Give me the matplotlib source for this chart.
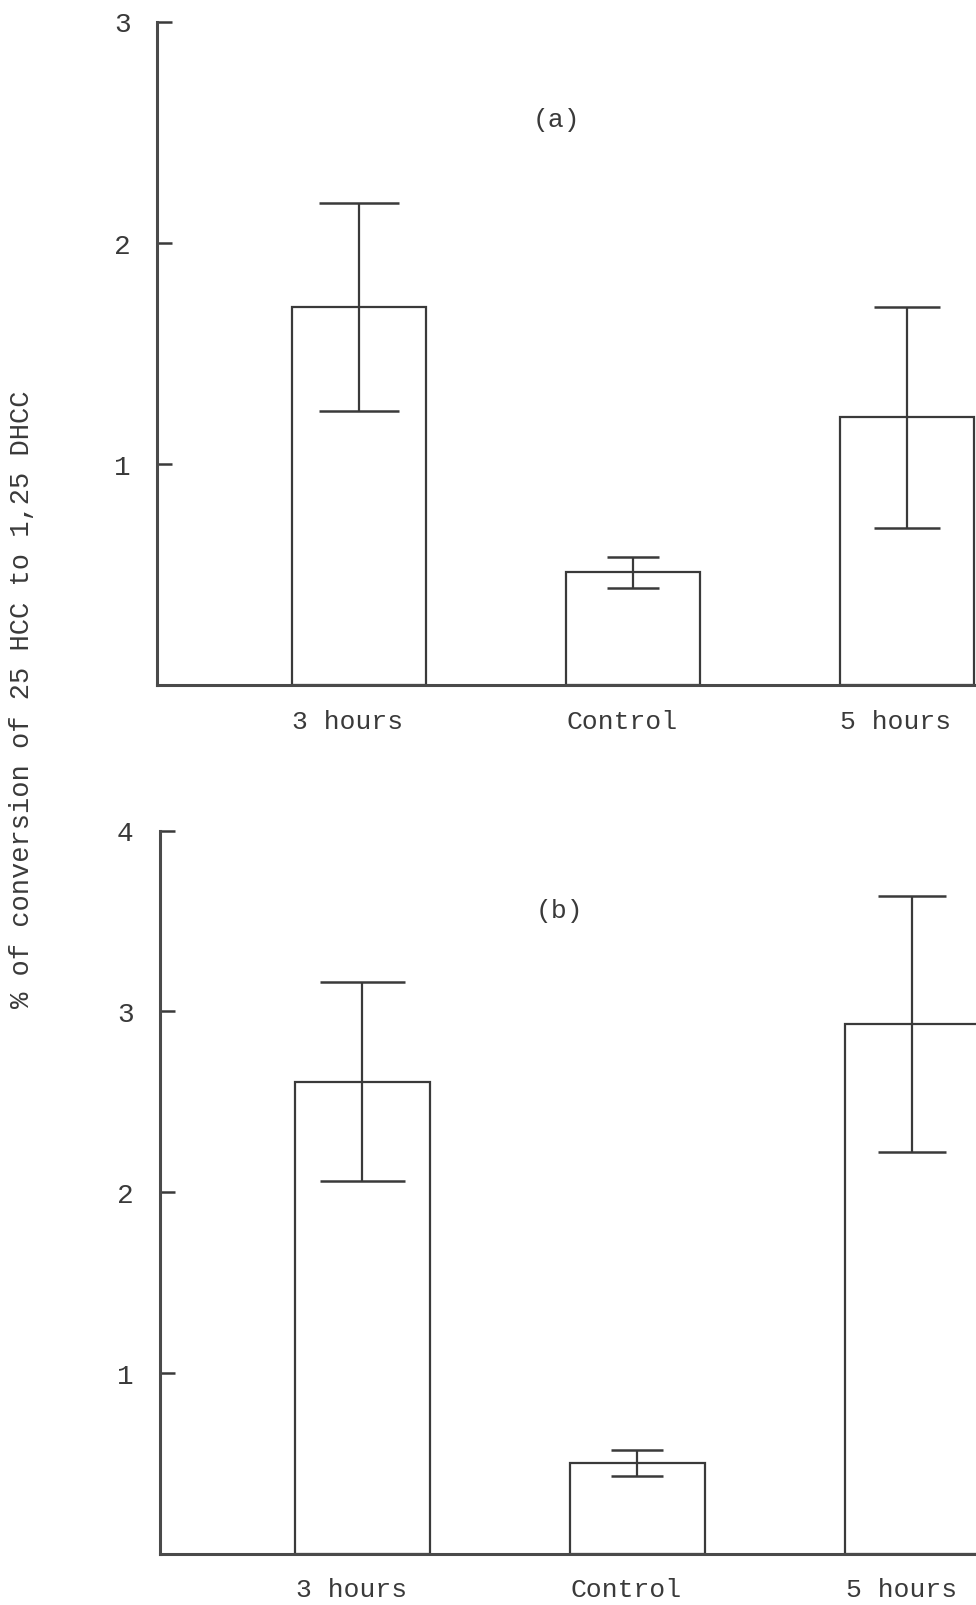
import matplotlib
matplotlib.use("Agg")
import matplotlib.pyplot as plt
import matplotlib.transforms as mtransforms

# ---- data ----
categories = ["3 hours", "Control", "5 hours"]
values_a = [1.71, 0.51, 1.21]
errors_a = [0.47, 0.07, 0.50]
values_b = [2.61, 0.50, 2.93]
errors_b = [0.55, 0.07, 0.71]
yticks_a = [1, 2, 3]
yticks_b = [1, 2, 3, 4]
ylabel = "% of conversion of 25 HCC to 1,25 DHCC"

FONT = ["Liberation Mono", "DejaVu Sans Mono"]
INK = "#3a3a3a"

W, H = 976, 1606
fig = plt.figure(figsize=(W / 100, H / 100), dpi=100)
fig.patch.set_facecolor("white")


def px_axes(left, top, right, bottom):
    return fig.add_axes([left / W, 1 - bottom / H, (right - left) / W, (bottom - top) / H])


def draw_panel(ax, vals, errs, yticks, ymax, xlim, caps, label, label_xy):
    x = list(range(len(categories)))
    ax.bar(x, vals, width=0.49, facecolor="white", edgecolor=INK, linewidth=1.6, zorder=2)
    for xi, v, e, c in zip(x, vals, errs, caps):
        ax.errorbar(xi, v, yerr=e, fmt="none", ecolor=INK, elinewidth=1.6,
                    capsize=c, capthick=1.8, zorder=3)
    ax.set_xlim(*xlim)
    ax.set_ylim(0, ymax)
    for s in ["top", "right"]:
        ax.spines[s].set_visible(False)
    for s in ["left", "bottom"]:
        ax.spines[s].set_linewidth(2.2)
        ax.spines[s].set_color("#4a4a4a")
    ax.set_yticks(yticks)
    ax.set_yticklabels([str(t) for t in yticks], family=FONT, fontsize=20, color=INK)
    ax.tick_params(axis="y", direction="in", length=11, width=1.8, color=INK, pad=19)
    ax.set_xticks(x)
    ax.set_xticklabels(categories, family=FONT, fontsize=19, color=INK)
    ax.tick_params(axis="x", length=0, pad=17)
    offset = mtransforms.ScaledTranslation(-11 / 100, 0, fig.dpi_scale_trans)
    for lab in ax.get_xticklabels():
        lab.set_transform(lab.get_transform() + offset)
    ax.text(label_xy[0], label_xy[1], label, transform=fig.transFigure,
            family=FONT, fontsize=19, color=INK, ha="center", va="center")


ax_a = px_axes(157, 22.5, 976, 686)
draw_panel(ax_a, values_a, errors_a, yticks_a, 3, (-0.737, 2.252),
           [29, 18.4, 24], "(a)", (556 / W, 1 - 120 / H))

ax_b = px_axes(160, 831.5, 976, 1554.5)
draw_panel(ax_b, values_b, errors_b, yticks_b, 4, (-0.736, 2.231),
           [30.6, 18.4, 24.7], "(b)", (559 / W, 1 - 911 / H))

fig.text(22.5 / W, 1 - 699 / H, ylabel, rotation=90, family=FONT, fontsize=19.5,
         color=INK, ha="center", va="center")

fig.savefig("out.png", dpi=100, facecolor="white")
